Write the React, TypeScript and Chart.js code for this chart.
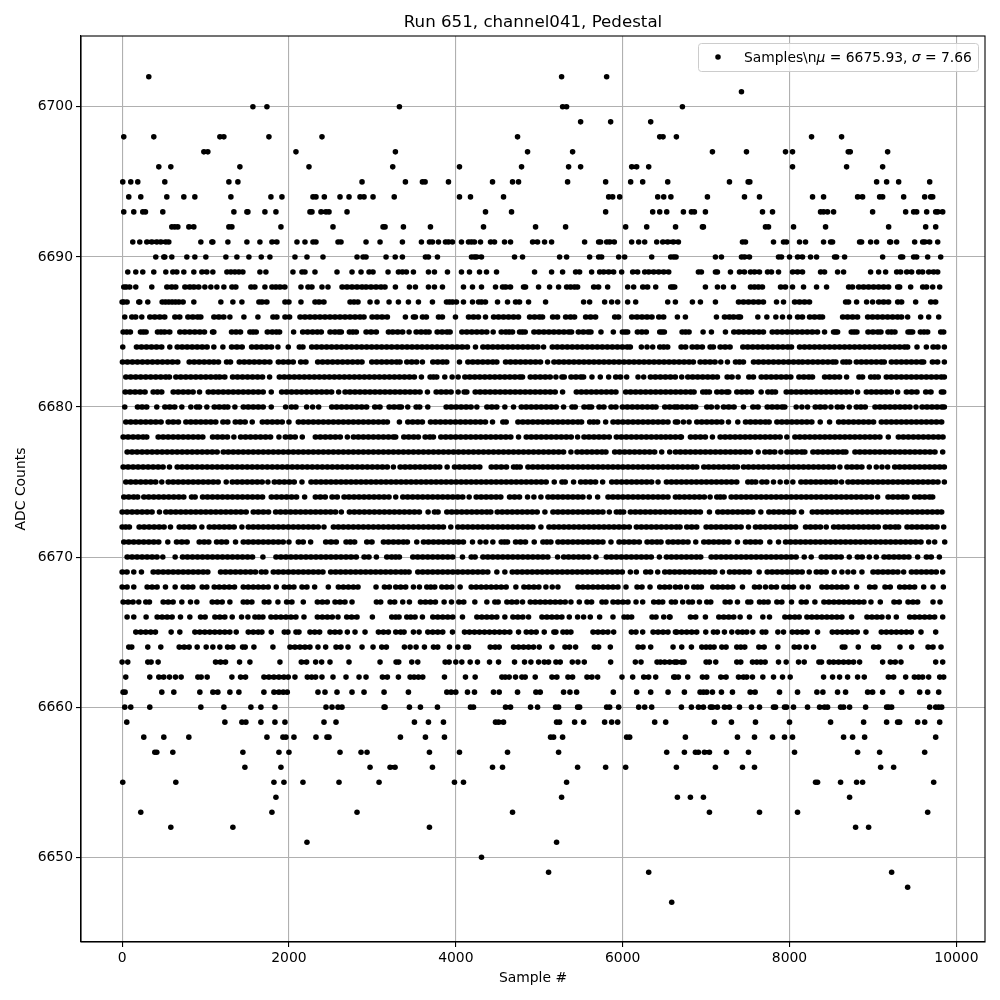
import React, { useEffect, useRef } from "react";
import { Chart, registerables } from "chart.js";

Chart.register(...registerables);

const titleText = "Run 651, channel041, Pedestal";
const xLabel = "Sample #";
const yLabel = "ADC Counts";
const seriesName = "Samples\\nμ = 6675.93, σ = 7.66";
const xTicks = [0, 2000, 4000, 6000, 8000, 10000];
const yTicks = [6650, 6660, 6670, 6680, 6690, 6700];

const r6702 = [320, 5268, 5808];
const r6701 = [7424];
const r6700 = [1568, 1736, 3324, 5280, 5328, 6716];
const r6699 = [5496, 5856, 6336];
const r6698 = [20, 380, 1172, 1220, 1760, 2396, 4740, 6444, 6484, 6644, 8264, 8624];
const r6697 = [980, 1028, 2084, 3276, 4860, 5400, 7076, 7484, 7952, 8036, 8704, 8728, 9176];
const r6696 = [440, 584, 1412, 2240, 3244, 4044, 4788, 5352, 5496, 6108, 6168, 6312, 8036, 8684, 9116];
const r6695 = [8, 104, 188, 512, 1280, 1388, 2876, 3396, 3600, 3632, 3912, 4440, 4680, 4752, 5340, 5796, 6096, 6240, 6540, 7280, 7504, 7524, 9044, 9164, 9308, 9680];
const r6694 = [80, 224, 536, 740, 872, 1304, 1784, 1916, 2288, 2324, 2424, 2612, 2720, 2852, 2900, 3008, 3262, 4044, 4176, 4572, 5832, 5880, 5964, 6420, 6492, 6578, 7016, 7460, 7640, 8276, 8408, 8816, 8876, 9080, 9116, 9368, 9620, 9692, 9716];
const r6693 = [20, 140, 248, 280, 488, 1340, 1496, 1508, 1712, 1844, 2252, 2276, 2384, 2444, 2480, 2696, 4356, 4668, 5796, 6360, 6444, 6528, 6728, 6824, 6860, 6992, 7676, 7796, 8372, 8408, 8456, 8528, 8996, 9392, 9488, 9524, 9644, 9752, 9776, 9836];
const r6692 = [596, 632, 668, 800, 860, 1280, 1316, 1904, 2528, 3128, 3152, 3372, 3696, 4332, 4956, 5316, 6036, 6288, 6634, 6956, 6968, 7712, 7748, 8048, 8432, 9188, 9632, 9752];
const r6691 = [128, 212, 296, 356, 416, 464, 524, 560, 944, 1076, 1088, 1268, 1496, 1652, 1796, 1856, 2096, 2192, 2288, 2324, 2588, 2624, 2924, 3092, 3360, 3588, 3684, 3720, 3792, 3876, 3912, 3960, 4068, 4152, 4188, 4224, 4296, 4416, 4464, 4584, 4656, 4920, 4980, 5064, 5148, 5544, 5712, 5736, 5808, 5844, 5900, 6108, 6192, 6264, 6408, 6480, 6540, 6606, 6668, 7436, 7472, 7808, 7928, 7964, 8120, 8192, 8408, 8492, 8516, 8840, 8864, 8972, 9044, 9200, 9212, 9284, 9500, 9596, 9620, 9680, 9776];
const r6690 = [404, 500, 512, 596, 776, 872, 1004, 1244, 1376, 1520, 1668, 1772, 2072, 2216, 2408, 2816, 2888, 2924, 3164, 3274, 3360, 3636, 3672, 3780, 4188, 4224, 4248, 4308, 4704, 4800, 5244, 5328, 5604, 5712, 5748, 5952, 6024, 6348, 6576, 6612, 6640, 7112, 7184, 7424, 7460, 7520, 7868, 7904, 8000, 8096, 8156, 8252, 8324, 8540, 8564, 8660, 9116, 9332, 9356, 9488, 9524, 9656, 9812];
const r6689 = [68, 164, 248, 380, 524, 608, 656, 740, 860, 956, 1016, 1088, 1256, 1304, 1352, 1400, 1448, 1652, 1724, 2048, 2156, 2192, 2312, 2576, 2756, 2864, 2960, 3008, 3188, 3312, 3360, 3408, 3492, 3672, 3744, 3900, 4068, 4164, 4284, 4368, 4488, 4944, 5148, 5280, 5436, 5484, 5628, 5724, 5772, 5832, 5892, 5988, 6120, 6180, 6264, 6312, 6372, 6432, 6492, 6552, 6908, 6944, 7112, 7136, 7292, 7400, 7460, 7532, 7580, 7640, 7736, 7784, 7868, 8036, 8096, 8156, 8372, 8420, 8576, 8648, 8972, 9068, 9152, 9284, 9332, 9404, 9464, 9548, 9596, 9668, 9728, 9776];
const r6688 = [20, 48, 92, 164, 356, 536, 596, 644, 752, 812, 860, 920, 992, 1064, 1136, 1220, 1316, 1364, 1544, 1592, 1712, 1796, 1844, 1892, 1952, 2144, 2228, 2276, 2396, 2468, 2636, 2696, 2756, 2816, 2876, 2924, 2984, 3044, 3104, 3152, 3276, 3444, 3516, 3672, 3744, 3840, 4092, 4200, 4308, 4476, 4560, 4596, 4656, 4812, 4836, 4992, 5124, 5232, 5328, 5376, 5424, 5460, 5652, 5712, 5820, 6060, 6132, 6240, 6300, 6396, 6576, 6624, 6600, 6992, 7136, 7208, 7328, 7532, 7580, 7628, 7676, 7892, 7952, 8036, 8168, 8324, 8444, 8708, 8756, 8828, 8888, 8948, 9008, 9068, 9128, 9188, 9296, 9320, 9452, 9596, 9644, 9716, 9800];
const r6687 = [0, 20, 60, 200, 212, 308, 480, 520, 560, 600, 640, 680, 732, 860, 1184, 1328, 1436, 1640, 1676, 1736, 1952, 2000, 2144, 2312, 2360, 2420, 2732, 2780, 2828, 2972, 3056, 3200, 3312, 3432, 3552, 3720, 3888, 3924, 3960, 4008, 4092, 4200, 4272, 4308, 4356, 4500, 4620, 4716, 4764, 4872, 5076, 5532, 5604, 5784, 5868, 5940, 6060, 6156, 6540, 6632, 6836, 6932, 7112, 7388, 7448, 7508, 7568, 7628, 7688, 7844, 7928, 8060, 8120, 8180, 8240, 8672, 8708, 8804, 8924, 8996, 9068, 9128, 9188, 9296, 9344, 9512, 9692, 9752];
const r6686 = [32, 116, 164, 236, 332, 392, 452, 512, 632, 692, 788, 848, 908, 944, 1100, 1160, 1220, 1292, 1460, 1628, 1808, 1856, 1952, 2008, 2132, 2192, 2252, 2312, 2372, 2432, 2492, 2552, 2612, 2672, 2732, 2792, 2852, 2900, 2996, 3056, 3116, 3180, 3396, 3492, 3516, 3600, 3648, 3792, 3840, 3996, 4152, 4212, 4272, 4356, 4452, 4512, 4572, 4632, 4692, 4752, 4884, 4944, 5004, 5040, 5160, 5220, 5316, 5376, 5424, 5556, 5616, 5676, 5904, 5952, 6108, 6172, 6232, 6292, 6352, 6432, 6492, 6656, 6752, 7124, 7220, 7280, 7328, 7388, 7412, 7620, 7728, 7836, 7916, 8000, 8096, 8156, 8240, 8300, 8360, 8396, 8636, 8696, 8756, 8816, 8936, 8996, 9056, 9116, 9176, 9236, 9296, 9344, 9416, 9572, 9668, 9788];
const r6685 = [12, 56, 100, 220, 254, 288, 424, 466, 508, 572, 692, 752, 812, 872, 932, 988, 1084, 1100, 1312, 1366, 1420, 1532, 1570, 1608, 1740, 1800, 1850, 1888, 2056, 2164, 2224, 2284, 2340, 2388, 2492, 2552, 2600, 2628, 2724, 2766, 2808, 2924, 2984, 3048, 3192, 3244, 3304, 3364, 3440, 3524, 3584, 3640, 3680, 3776, 3836, 3896, 3932, 4072, 4132, 4192, 4252, 4312, 4372, 4448, 4544, 4600, 4640, 4680, 4764, 4798, 4832, 4936, 4996, 5056, 5116, 5176, 5236, 5296, 5356, 5388, 5468, 5528, 5588, 5620, 5740, 5888, 5996, 6030, 6060, 6176, 6230, 6284, 6444, 6472, 6500, 6712, 6754, 6796, 6964, 7064, 7232, 7332, 7392, 7452, 7512, 7572, 7632, 7688, 7792, 7852, 7912, 7972, 8032, 8092, 8152, 8212, 8272, 8336, 8420, 8528, 8552, 8576, 8740, 8774, 8808, 8940, 9000, 9060, 9096, 9180, 9222, 9264, 9420, 9448, 9476, 9568, 9612, 9656, 9812, 9848];
const r6684 = [8, 172, 232, 292, 352, 412, 476, 572, 660, 720, 780, 840, 900, 960, 1020, 1100, 1208, 1312, 1376, 1440, 1552, 1612, 1672, 1732, 1792, 1868, 1992, 2124, 2168, 2272, 2332, 2392, 2452, 2512, 2572, 2632, 2692, 2752, 2812, 2872, 2932, 2992, 3052, 3112, 3172, 3232, 3296, 3356, 3416, 3476, 3536, 3596, 3656, 3716, 3776, 3836, 3896, 3956, 4016, 4076, 4140, 4236, 4324, 4384, 4444, 4504, 4564, 4624, 4684, 4744, 4804, 4864, 4924, 4984, 5052, 5156, 5216, 5276, 5336, 5396, 5456, 5516, 5576, 5636, 5696, 5756, 5816, 5876, 5936, 5996, 6056, 6092, 6224, 6292, 6360, 6444, 6492, 6540, 6700, 6756, 6832, 6892, 6956, 7048, 7088, 7168, 7228, 7288, 7440, 7500, 7560, 7620, 7680, 7740, 7800, 7860, 7920, 7980, 8024, 8120, 8180, 8240, 8300, 8360, 8420, 8480, 8540, 8600, 8660, 8720, 8780, 8840, 8900, 8960, 9020, 9080, 9140, 9200, 9260, 9320, 9380, 9416, 9528, 9640, 9720, 9780, 9856];
const r6683 = [4, 64, 124, 184, 244, 304, 364, 424, 484, 544, 604, 668, 804, 864, 924, 984, 1044, 1100, 1156, 1252, 1300, 1404, 1464, 1524, 1584, 1644, 1708, 1772, 1872, 1932, 1992, 2052, 2140, 2204, 2344, 2404, 2464, 2524, 2584, 2644, 2704, 2764, 2824, 2876, 2992, 3052, 3112, 3172, 3232, 3292, 3332, 3412, 3472, 3532, 3600, 3724, 3784, 3844, 3892, 4044, 4144, 4204, 4264, 4324, 4384, 4444, 4492, 4596, 4656, 4716, 4776, 4836, 4896, 4956, 5016, 5100, 5176, 5236, 5296, 5356, 5416, 5476, 5536, 5596, 5656, 5716, 5776, 5836, 5896, 5956, 6016, 6076, 6136, 6196, 6256, 6316, 6376, 6436, 6496, 6556, 6616, 6676, 6736, 6796, 6848, 6928, 6988, 7048, 7108, 7176, 7256, 7352, 7400, 7448, 7568, 7628, 7688, 7748, 7808, 7868, 7928, 7988, 8048, 8108, 8156, 8220, 8280, 8340, 8400, 8460, 8520, 8556, 8640, 8680, 8720, 8800, 8860, 8920, 8980, 9040, 9100, 9136, 9220, 9280, 9340, 9400, 9460, 9520, 9580, 9608, 9712, 9776, 9856];
const r6682 = [44, 104, 164, 224, 284, 344, 404, 464, 524, 568, 644, 704, 764, 824, 884, 944, 1004, 1064, 1124, 1168, 1232, 1324, 1384, 1444, 1504, 1564, 1624, 1684, 1768, 1884, 1944, 2004, 2064, 2124, 2184, 2244, 2304, 2364, 2424, 2484, 2544, 2604, 2664, 2724, 2784, 2844, 2904, 2964, 3024, 3084, 3144, 3204, 3264, 3324, 3384, 3444, 3504, 3588, 3692, 3732, 3772, 3868, 3956, 4028, 4108, 4168, 4228, 4288, 4348, 4408, 4468, 4528, 4588, 4648, 4708, 4768, 4800, 4892, 4952, 5012, 5072, 5132, 5200, 5272, 5300, 5380, 5440, 5500, 5532, 5632, 5732, 5832, 5916, 5976, 6048, 6184, 6252, 6332, 6392, 6452, 6512, 6572, 6632, 6708, 6780, 6840, 6900, 6960, 7020, 7080, 7136, 7252, 7312, 7384, 7512, 7568, 7660, 7720, 7780, 7840, 7900, 7960, 8016, 8112, 8172, 8232, 8276, 8420, 8480, 8540, 8600, 8684, 8832, 8876, 8972, 9020, 9064, 9160, 9220, 9280, 9340, 9400, 9460, 9520, 9580, 9640, 9700, 9760, 9820, 9856];
const r6681 = [36, 96, 156, 216, 276, 372, 424, 476, 612, 672, 732, 792, 852, 928, 1032, 1092, 1152, 1212, 1272, 1332, 1392, 1452, 1512, 1572, 1632, 1692, 1788, 1912, 1972, 2032, 2092, 2152, 2212, 2272, 2332, 2392, 2452, 2512, 2596, 2672, 2732, 2792, 2852, 2912, 2972, 3032, 3092, 3152, 3212, 3272, 3332, 3392, 3452, 3512, 3572, 3660, 3764, 3824, 3884, 3944, 4028, 4100, 4132, 4232, 4292, 4352, 4412, 4472, 4532, 4592, 4652, 4712, 4772, 4832, 4892, 4952, 5012, 5072, 5132, 5192, 5280, 5444, 5504, 5564, 5624, 5684, 5744, 5804, 5864, 5920, 6036, 6096, 6156, 6216, 6276, 6336, 6396, 6456, 6516, 6576, 6636, 6696, 6756, 6816, 6856, 6960, 7000, 7040, 7128, 7188, 7248, 7272, 7368, 7428, 7488, 7544, 7660, 7740, 7790, 7832, 7960, 8020, 8080, 8140, 8200, 8260, 8320, 8380, 8440, 8500, 8560, 8620, 8680, 8740, 8816, 8920, 8980, 9040, 9100, 9160, 9220, 9296, 9400, 9464, 9528, 9632, 9696, 9820, 9848];
const r6680 = [32, 184, 240, 296, 416, 512, 572, 632, 716, 824, 892, 928, 1016, 1104, 1164, 1224, 1268, 1352, 1452, 1512, 1572, 1632, 1692, 1788, 1960, 2028, 2084, 2212, 2284, 2356, 2512, 2572, 2632, 2692, 2752, 2812, 2872, 2932, 3028, 3092, 3200, 3260, 3320, 3348, 3424, 3524, 3568, 3664, 3884, 3944, 4004, 4064, 4124, 4184, 4252, 4372, 4432, 4492, 4588, 4692, 4784, 4844, 4904, 4964, 5024, 5084, 5144, 5204, 5292, 5392, 5432, 5536, 5596, 5628, 5716, 5776, 5860, 5920, 5996, 6056, 6116, 6176, 6236, 6296, 6356, 6400, 6504, 6564, 6624, 6656, 6712, 6772, 6832, 6876, 7008, 7064, 7132, 7208, 7272, 7336, 7448, 7560, 7624, 7732, 7792, 7852, 7912, 7944, 8080, 8148, 8216, 8308, 8368, 8428, 8496, 8572, 8632, 8716, 8800, 8856, 8908, 9024, 9084, 9144, 9204, 9264, 9324, 9384, 9444, 9516, 9588, 9648, 9708, 9768, 9828, 9856];
const r6679 = [44, 104, 164, 224, 284, 344, 404, 468, 552, 612, 676, 764, 824, 884, 944, 1004, 1064, 1124, 1208, 1268, 1356, 1416, 1476, 1560, 1680, 1740, 1800, 1860, 1920, 2000, 2112, 2172, 2232, 2292, 2352, 2412, 2472, 2532, 2592, 2652, 2712, 2772, 2832, 2892, 2952, 3012, 3072, 3132, 3180, 3324, 3424, 3484, 3544, 3600, 3696, 3756, 3816, 3876, 3936, 3996, 4056, 4116, 4176, 4236, 4296, 4356, 4440, 4564, 4604, 4744, 4804, 4864, 4924, 4984, 5044, 5104, 5164, 5224, 5284, 5344, 5404, 5464, 5508, 5604, 5652, 5700, 5796, 5884, 5944, 6004, 6064, 6124, 6184, 6244, 6304, 6364, 6424, 6484, 6544, 6632, 6660, 6728, 6796, 6888, 6948, 7008, 7068, 7128, 7188, 7268, 7380, 7472, 7532, 7592, 7652, 7712, 7756, 7848, 7908, 7968, 8028, 8088, 8148, 8208, 8268, 8368, 8480, 8588, 8648, 8708, 8768, 8828, 8888, 8948, 9008, 9100, 9160, 9220, 9280, 9340, 9400, 9460, 9520, 9580, 9640, 9700, 9760, 9824];
const r6678 = [12, 72, 132, 192, 252, 296, 432, 492, 552, 612, 672, 732, 792, 852, 912, 968, 1084, 1144, 1204, 1264, 1340, 1420, 1480, 1540, 1600, 1660, 1720, 1780, 1880, 1956, 2016, 2076, 2160, 2316, 2376, 2436, 2496, 2556, 2616, 2700, 2772, 2832, 2892, 2952, 3012, 3072, 3132, 3192, 3252, 3280, 3376, 3436, 3496, 3552, 3632, 3690, 3732, 3820, 3880, 3940, 4000, 4060, 4120, 4180, 4240, 4300, 4360, 4420, 4480, 4540, 4600, 4660, 4752, 4844, 4904, 4964, 5024, 5084, 5144, 5204, 5264, 5324, 5384, 5460, 5536, 5596, 5656, 5716, 5776, 5840, 5924, 5984, 6044, 6104, 6164, 6224, 6284, 6344, 6404, 6460, 6516, 6572, 6632, 6692, 6704, 6812, 6872, 6932, 6992, 7076, 7168, 7228, 7288, 7348, 7408, 7468, 7528, 7588, 7648, 7708, 7768, 7828, 7888, 7968, 8064, 8124, 8184, 8244, 8304, 8364, 8424, 8484, 8544, 8604, 8664, 8724, 8784, 8844, 8904, 8964, 9024, 9084, 9184, 9304, 9364, 9424, 9484, 9544, 9604, 9664, 9724, 9784, 9840];
const r6677 = [60, 120, 180, 240, 300, 360, 420, 480, 540, 600, 660, 720, 780, 840, 900, 960, 1020, 1080, 1140, 1212, 1272, 1332, 1392, 1452, 1512, 1572, 1632, 1692, 1752, 1812, 1872, 1932, 1992, 2052, 2112, 2172, 2232, 2292, 2352, 2412, 2472, 2532, 2592, 2652, 2712, 2772, 2832, 2892, 2952, 3012, 3072, 3132, 3192, 3252, 3312, 3372, 3432, 3492, 3552, 3612, 3672, 3732, 3792, 3852, 3912, 3972, 4032, 4092, 4152, 4212, 4272, 4332, 4392, 4452, 4512, 4572, 4632, 4692, 4752, 4812, 4872, 4932, 4992, 5052, 5112, 5172, 5232, 5292, 5380, 5452, 5512, 5572, 5632, 5692, 5752, 5800, 5904, 5964, 6024, 6084, 6144, 6204, 6264, 6324, 6384, 6468, 6564, 6632, 6692, 6752, 6812, 6872, 6932, 6992, 7052, 7112, 7172, 7232, 7292, 7352, 7412, 7472, 7532, 7624, 7704, 7764, 7824, 7896, 7968, 8028, 8088, 8148, 8184, 8280, 8340, 8400, 8460, 8520, 8580, 8640, 8676, 8784, 8844, 8904, 8964, 9024, 9084, 9144, 9204, 9264, 9324, 9384, 9444, 9504, 9564, 9624, 9684, 9744, 9836];
const r6676 = [12, 72, 132, 192, 252, 312, 372, 432, 492, 568, 660, 720, 780, 840, 900, 960, 1020, 1080, 1140, 1200, 1260, 1320, 1380, 1440, 1500, 1560, 1620, 1680, 1740, 1800, 1860, 1920, 1980, 2040, 2100, 2160, 2220, 2280, 2340, 2400, 2460, 2520, 2580, 2640, 2700, 2760, 2820, 2880, 2940, 3000, 3060, 3120, 3180, 3252, 3332, 3392, 3452, 3512, 3572, 3632, 3692, 3752, 3808, 3896, 3984, 4044, 4104, 4164, 4224, 4288, 4424, 4484, 4544, 4608, 4692, 4732, 4772, 4864, 4924, 4984, 5044, 5104, 5164, 5224, 5284, 5344, 5404, 5464, 5524, 5584, 5644, 5704, 5764, 5824, 5884, 5944, 6004, 6064, 6124, 6184, 6244, 6304, 6364, 6424, 6484, 6544, 6604, 6660, 6720, 6780, 6840, 6888, 6972, 7032, 7092, 7152, 7212, 7272, 7332, 7376, 7448, 7508, 7568, 7628, 7688, 7748, 7808, 7868, 7928, 7988, 8048, 8108, 8168, 8228, 8288, 8348, 8408, 8468, 8528, 8604, 8688, 8748, 8808, 8868, 8956, 9040, 9108, 9176, 9260, 9320, 9380, 9440, 9500, 9560, 9620, 9680, 9740, 9800, 9856];
const r6675 = [44, 104, 164, 224, 284, 344, 404, 476, 552, 612, 672, 732, 792, 852, 912, 972, 1032, 1092, 1152, 1248, 1320, 1380, 1440, 1500, 1560, 1620, 1680, 1748, 1824, 1884, 1944, 2004, 2064, 2156, 2264, 2324, 2384, 2444, 2504, 2564, 2624, 2684, 2744, 2804, 2864, 2924, 2984, 3044, 3104, 3164, 3224, 3284, 3344, 3404, 3464, 3524, 3584, 3644, 3704, 3764, 3824, 3884, 3944, 4004, 4064, 4124, 4184, 4244, 4304, 4364, 4424, 4484, 4544, 4604, 4664, 4724, 4784, 4844, 4904, 4964, 5024, 5084, 5180, 5272, 5312, 5412, 5496, 5556, 5616, 5676, 5760, 5868, 5928, 5988, 6048, 6108, 6168, 6228, 6288, 6348, 6424, 6524, 6584, 6644, 6704, 6764, 6824, 6884, 6944, 7004, 7064, 7124, 7184, 7244, 7304, 7368, 7500, 7548, 7596, 7668, 7728, 7808, 7888, 7964, 8040, 8136, 8196, 8256, 8316, 8376, 8436, 8496, 8556, 8624, 8700, 8760, 8820, 8880, 8940, 9000, 9060, 9120, 9180, 9240, 9300, 9360, 9420, 9480, 9540, 9600, 9660, 9720, 9780, 9856];
const r6674 = [20, 80, 140, 188, 260, 320, 380, 440, 500, 560, 620, 680, 740, 832, 876, 964, 1024, 1084, 1144, 1204, 1264, 1324, 1384, 1444, 1504, 1564, 1624, 1684, 1788, 1852, 1912, 1972, 2032, 2092, 2188, 2316, 2376, 2436, 2516, 2580, 2660, 2720, 2780, 2840, 2900, 2960, 3020, 3080, 3140, 3200, 3280, 3364, 3424, 3484, 3544, 3604, 3664, 3724, 3784, 3844, 3904, 3964, 4024, 4084, 4160, 4244, 4304, 4364, 4424, 4484, 4540, 4644, 4704, 4764, 4860, 4936, 5020, 5104, 5164, 5224, 5284, 5344, 5404, 5464, 5524, 5600, 5700, 5824, 5884, 5944, 6004, 6064, 6124, 6184, 6244, 6304, 6364, 6424, 6484, 6544, 6632, 6680, 6740, 6800, 6860, 6920, 6980, 7048, 7128, 7170, 7216, 7300, 7360, 7420, 7480, 7540, 7600, 7660, 7720, 7780, 7840, 7900, 7960, 8020, 8080, 8140, 8200, 8260, 8320, 8380, 8440, 8500, 8560, 8620, 8680, 8740, 8800, 8860, 8920, 8984, 9056, 9180, 9240, 9300, 9360, 9408, 9500, 9560, 9620, 9680, 9716];
const r6673 = [0, 60, 120, 180, 240, 300, 360, 448, 524, 584, 644, 704, 764, 824, 884, 944, 1004, 1064, 1124, 1184, 1244, 1304, 1364, 1424, 1488, 1572, 1632, 1692, 1756, 1840, 1900, 1960, 2020, 2080, 2140, 2200, 2260, 2320, 2380, 2440, 2500, 2560, 2628, 2724, 2784, 2844, 2904, 2964, 3024, 3084, 3144, 3204, 3264, 3324, 3384, 3444, 3504, 3564, 3668, 3744, 3788, 3892, 3952, 4012, 4072, 4132, 4192, 4252, 4312, 4372, 4420, 4496, 4556, 4616, 4676, 4736, 4796, 4856, 4916, 4976, 5068, 5164, 5224, 5284, 5344, 5404, 5464, 5524, 5584, 5644, 5704, 5764, 5840, 5924, 5970, 6012, 6092, 6152, 6212, 6272, 6332, 6392, 6452, 6512, 6572, 6632, 6692, 6752, 6812, 6872, 6932, 7040, 7140, 7200, 7260, 7320, 7380, 7440, 7500, 7560, 7656, 7752, 7812, 7872, 7932, 7992, 8052, 8144, 8272, 8332, 8392, 8452, 8512, 8572, 8632, 8692, 8752, 8812, 8872, 8932, 8992, 9052, 9112, 9172, 9232, 9292, 9352, 9412, 9472, 9532, 9592, 9652, 9712, 9772, 9824];
const r6672 = [0, 44, 88, 204, 264, 324, 384, 444, 504, 580, 684, 744, 804, 864, 956, 1044, 1104, 1164, 1224, 1284, 1344, 1436, 1512, 1572, 1632, 1692, 1752, 1812, 1872, 1932, 1992, 2052, 2112, 2172, 2232, 2292, 2352, 2420, 2532, 2592, 2652, 2712, 2772, 2832, 2892, 2952, 3012, 3072, 3132, 3192, 3252, 3312, 3372, 3432, 3492, 3552, 3612, 3672, 3732, 3792, 3852, 3940, 4024, 4084, 4144, 4204, 4264, 4324, 4384, 4444, 4504, 4564, 4624, 4684, 4744, 4804, 4864, 4924, 5020, 5116, 5176, 5236, 5296, 5356, 5416, 5476, 5536, 5596, 5656, 5716, 5776, 5836, 5896, 5956, 6016, 6080, 6164, 6224, 6284, 6344, 6404, 6464, 6524, 6584, 6644, 6688, 6768, 6828, 6888, 7000, 7060, 7120, 7180, 7240, 7300, 7360, 7420, 7508, 7592, 7652, 7712, 7772, 7832, 7892, 7952, 8012, 8072, 8192, 8252, 8312, 8372, 8440, 8528, 8588, 8648, 8708, 8768, 8828, 8888, 8948, 9008, 9064, 9148, 9208, 9268, 9308, 9408, 9468, 9528, 9588, 9648, 9708, 9768, 9848];
const r6671 = [20, 80, 140, 200, 260, 320, 380, 440, 548, 652, 716, 780, 924, 984, 1040, 1132, 1192, 1252, 1360, 1452, 1512, 1572, 1632, 1692, 1752, 1812, 1872, 1932, 2000, 2112, 2172, 2260, 2440, 2504, 2568, 2684, 2736, 2788, 2932, 2996, 3132, 3192, 3252, 3312, 3372, 3420, 3532, 3612, 3672, 3732, 3792, 3852, 3912, 3972, 4032, 4092, 4200, 4292, 4360, 4444, 4544, 4584, 4620, 4716, 4776, 4836, 4940, 5044, 5092, 5140, 5224, 5284, 5344, 5404, 5464, 5524, 5584, 5644, 5704, 5764, 5860, 5956, 6016, 6076, 6136, 6200, 6292, 6352, 6412, 6460, 6544, 6604, 6664, 6724, 6784, 6876, 6972, 7032, 7092, 7152, 7212, 7272, 7376, 7472, 7532, 7592, 7652, 7764, 7868, 7952, 8012, 8072, 8132, 8192, 8252, 8312, 8372, 8432, 8492, 8552, 8612, 8672, 8732, 8792, 8852, 8912, 8972, 9032, 9092, 9152, 9212, 9272, 9332, 9392, 9452, 9512, 9576, 9668, 9740, 9860];
const r6670 = [60, 120, 180, 240, 300, 360, 420, 488, 636, 724, 784, 844, 904, 964, 1024, 1084, 1144, 1204, 1264, 1324, 1384, 1444, 1504, 1564, 1688, 1844, 1904, 1964, 2024, 2084, 2144, 2204, 2264, 2324, 2384, 2444, 2504, 2564, 2624, 2684, 2744, 2808, 2900, 2960, 3048, 3172, 3232, 3280, 3324, 3484, 3544, 3604, 3664, 3724, 3784, 3844, 3904, 3964, 4080, 4184, 4232, 4324, 4384, 4444, 4504, 4564, 4624, 4684, 4744, 4804, 4864, 4924, 4984, 5044, 5104, 5220, 5292, 5352, 5412, 5472, 5532, 5592, 5680, 5804, 5864, 5924, 5984, 6044, 6104, 6164, 6224, 6284, 6344, 6440, 6524, 6584, 6644, 6704, 6764, 6824, 6884, 6936, 7060, 7120, 7180, 7240, 7300, 7360, 7420, 7480, 7540, 7600, 7660, 7720, 7780, 7840, 7900, 7960, 8020, 8080, 8176, 8260, 8380, 8440, 8500, 8560, 8620, 8716, 8812, 8872, 8956, 9040, 9132, 9192, 9252, 9312, 9372, 9432, 9536, 9640, 9700, 9796];
const r6669 = [0, 60, 140, 232, 372, 432, 492, 552, 612, 672, 732, 792, 852, 912, 972, 1028, 1180, 1240, 1300, 1360, 1420, 1480, 1540, 1600, 1668, 1724, 1812, 1872, 1932, 1992, 2052, 2112, 2172, 2232, 2292, 2352, 2408, 2500, 2560, 2620, 2680, 2740, 2800, 2860, 2920, 2980, 3040, 3100, 3160, 3220, 3280, 3344, 3392, 3440, 3544, 3604, 3664, 3724, 3784, 3844, 3904, 3964, 4024, 4084, 4144, 4204, 4264, 4324, 4384, 4492, 4588, 4676, 4736, 4796, 4856, 4916, 4976, 5036, 5096, 5156, 5216, 5276, 5336, 5396, 5456, 5516, 5576, 5636, 5696, 5756, 5816, 5876, 5936, 5996, 6092, 6164, 6276, 6336, 6420, 6504, 6564, 6624, 6684, 6744, 6804, 6864, 6924, 6984, 7044, 7104, 7196, 7280, 7340, 7400, 7460, 7520, 7636, 7732, 7792, 7852, 7912, 7972, 8032, 8092, 8152, 8236, 8320, 8380, 8440, 8536, 8628, 8700, 8768, 8868, 9000, 9060, 9120, 9180, 9240, 9300, 9368, 9460, 9520, 9580, 9640, 9700, 9760, 9836];
const r6668 = [0, 60, 140, 300, 360, 420, 520, 636, 732, 790, 848, 960, 1016, 1104, 1164, 1224, 1284, 1348, 1452, 1512, 1572, 1632, 1692, 1752, 1848, 1944, 2004, 2060, 2156, 2216, 2308, 2472, 2592, 2652, 2712, 2772, 2828, 3044, 3144, 3204, 3280, 3340, 3400, 3492, 3564, 3652, 3700, 3748, 3832, 3892, 3952, 4052, 4184, 4244, 4304, 4364, 4424, 4484, 4544, 4604, 4720, 4816, 4876, 4936, 4996, 5080, 5156, 5224, 5464, 5524, 5584, 5644, 5704, 5764, 5824, 5884, 5944, 6040, 6172, 6232, 6328, 6444, 6504, 6564, 6632, 6692, 6768, 6852, 6900, 6944, 7080, 7140, 7200, 7260, 7320, 7436, 7580, 7640, 7712, 7780, 7844, 7932, 7990, 8048, 8152, 8224, 8388, 8448, 8508, 8568, 8628, 8688, 8804, 8960, 9024, 9144, 9208, 9320, 9380, 9440, 9500, 9608, 9720, 9844];
const r6667 = [12, 72, 132, 200, 284, 328, 492, 552, 612, 716, 820, 896, 1080, 1140, 1200, 1292, 1452, 1500, 1556, 1704, 1760, 1868, 1972, 2036, 2172, 2340, 2400, 2460, 2552, 2612, 2672, 2756, 3048, 3100, 3212, 3268, 3364, 3444, 3576, 3636, 3696, 3756, 3860, 3948, 4036, 4096, 4228, 4372, 4468, 4508, 4612, 4672, 4732, 4800, 4892, 4952, 5012, 5072, 5132, 5192, 5252, 5312, 5380, 5480, 5572, 5628, 5752, 5800, 5884, 5944, 6004, 6064, 6160, 6240, 6372, 6432, 6480, 6584, 6632, 6720, 6792, 6836, 6920, 7008, 7056, 7228, 7288, 7376, 7500, 7536, 7640, 7692, 7744, 7848, 7908, 8024, 8140, 8200, 8304, 8412, 8472, 8532, 8592, 8652, 8712, 8772, 8832, 8892, 8976, 9088, 9252, 9316, 9420, 9480, 9536, 9720, 9804];
const r6666 = [60, 140, 288, 420, 480, 540, 600, 700, 812, 940, 996, 1112, 1172, 1232, 1320, 1432, 1508, 1592, 1640, 1688, 1784, 1844, 1904, 1964, 2024, 2084, 2180, 2340, 2400, 2460, 2520, 2588, 2692, 2752, 2816, 3000, 3232, 3280, 3320, 3412, 3460, 3512, 3600, 3724, 3784, 3844, 3904, 3964, 4080, 4252, 4312, 4372, 4432, 4492, 4588, 4684, 4744, 4804, 4872, 5032, 5092, 5152, 5212, 5272, 5360, 5460, 5532, 5612, 5724, 5884, 6016, 6060, 6108, 6352, 6400, 6492, 6560, 6568, 6812, 6876, 6992, 7152, 7212, 7272, 7332, 7408, 7520, 7680, 7760, 7944, 8004, 8064, 8116, 8208, 8268, 8328, 8388, 8448, 8508, 8568, 8628, 8744, 8928, 8988, 9048, 9108, 9184, 9280, 9440, 9500, 9560, 9620, 9680, 9740, 9836];
const r6665 = [164, 224, 284, 344, 400, 588, 692, 872, 932, 992, 1052, 1112, 1172, 1232, 1292, 1368, 1512, 1572, 1632, 1676, 1788, 1944, 1988, 2084, 2120, 2252, 2310, 2368, 2492, 2552, 2612, 2700, 2792, 2912, 3072, 3132, 3192, 3280, 3340, 3380, 3492, 3560, 3664, 3724, 3784, 3844, 3960, 4104, 4164, 4224, 4284, 4344, 4404, 4464, 4524, 4584, 4648, 4752, 4844, 4904, 4964, 5060, 5176, 5200, 5284, 5332, 5380, 5644, 5704, 5764, 5824, 5892, 6104, 6160, 6240, 6364, 6424, 6484, 6544, 6632, 6648, 6708, 6768, 6828, 6888, 6996, 7088, 7136, 7220, 7308, 7380, 7436, 7488, 7560, 7672, 7716, 7860, 7928, 8032, 8092, 8152, 8212, 8336, 8512, 8572, 8632, 8692, 8752, 8812, 8916, 9100, 9160, 9220, 9280, 9340, 9400, 9460, 9576, 9752];
const r6664 = [80, 116, 308, 464, 684, 744, 804, 900, 1008, 1088, 1172, 1264, 1328, 1444, 1476, 1580, 1808, 2012, 2072, 2132, 2192, 2252, 2348, 2440, 2564, 2624, 2708, 2876, 3008, 3112, 3168, 3384, 3452, 3524, 3624, 3732, 3784, 3924, 4024, 4116, 4152, 4412, 4472, 4520, 4692, 4752, 4812, 4872, 4932, 5000, 5152, 5308, 5364, 5436, 5660, 5712, 5852, 6184, 6244, 6336, 6604, 6708, 6824, 6948, 7000, 7048, 7096, 7188, 7240, 7368, 7416, 7464, 7632, 7696, 7860, 8056, 8116, 8200, 8288, 8632, 8664, 8824, 9008, 9068, 9324, 9464, 9660, 9720, 9816];
const r6663 = [0, 68, 308, 348, 432, 1120, 1180, 1240, 1408, 1532, 1892, 2148, 2212, 2320, 2392, 2492, 2720, 3092, 3284, 3316, 3472, 3544, 3872, 3920, 4000, 4072, 4172, 4260, 4404, 4512, 4704, 4824, 4900, 4992, 5060, 5112, 5200, 5252, 5396, 5464, 5540, 5856, 6152, 6220, 6412, 6452, 6504, 6564, 6624, 6648, 6708, 6736, 7000, 7040, 7116, 7368, 7416, 7556, 7608, 7656, 7708, 7868, 7960, 8108, 8176, 8352, 8384, 8476, 8528, 8588, 8648, 8708, 8768, 8840, 9116, 9208, 9268, 9336, 9752, 9836];
const r6662 = [44, 332, 440, 500, 568, 640, 708, 908, 948, 1020, 1316, 1420, 1480, 1700, 1760, 1820, 1880, 1940, 1992, 2072, 2220, 2272, 2320, 2396, 2528, 2684, 2840, 2924, 3120, 3180, 3312, 3452, 3500, 3552, 3604, 3864, 4116, 4232, 4552, 4592, 4640, 4716, 4792, 4832, 4952, 5152, 5212, 5344, 5400, 5572, 5632, 5700, 5992, 6120, 6252, 6312, 6396, 6612, 6628, 6668, 6780, 6956, 7008, 7176, 7240, 7388, 7448, 7488, 7556, 7680, 7808, 7916, 8008, 8408, 8516, 8600, 8696, 8816, 8896, 9184, 9248, 9392, 9496, 9548, 9596, 9668, 9800, 9848];
const r6661 = [12, 36, 476, 620, 932, 1088, 1148, 1292, 1400, 1700, 1820, 1880, 1932, 1980, 2348, 2432, 2576, 2756, 2900, 3140, 3432, 3892, 3944, 4000, 4140, 4224, 4452, 4520, 4740, 4960, 5012, 5292, 5368, 5448, 5888, 6168, 6336, 6544, 6740, 6928, 6968, 7008, 7076, 7184, 7316, 7528, 7588, 7880, 8096, 8328, 8400, 8576, 8672, 8936, 8996, 9116, 9344, 9560, 9656, 9788];
const r6660 = [32, 104, 332, 944, 1220, 1544, 1664, 1832, 2444, 2516, 2588, 2636, 3140, 3152, 3444, 3576, 3780, 4176, 4212, 4596, 4656, 4896, 4980, 5196, 5232, 5460, 5484, 5808, 5844, 5952, 6192, 6264, 6348, 6704, 6824, 6908, 6968, 7052, 7076, 7136, 7220, 7280, 7400, 7544, 7640, 7808, 7832, 7940, 7964, 8048, 8216, 8360, 8420, 8456, 8612, 8648, 8720, 8912, 9164, 9188, 9224, 9680, 9752, 9788, 9824];
const r6659 = [56, 1232, 1436, 1484, 1664, 1832, 1952, 2420, 2564, 3504, 3672, 3852, 4476, 4512, 4572, 5208, 5244, 5424, 5532, 5784, 5868, 5940, 6384, 6516, 7100, 7304, 7592, 8000, 8492, 8888, 9164, 9296, 9320, 9536, 9620, 9800];
const r6658 = [260, 500, 800, 1736, 1928, 1964, 2060, 2324, 2456, 2480, 3336, 3636, 3864, 5136, 5172, 5280, 6048, 6084, 6752, 7376, 7580, 7796, 7940, 8036, 8648, 8756, 8900, 9752];
const r6657 = [392, 416, 608, 1448, 1880, 2000, 2612, 2864, 2936, 3684, 4044, 4620, 5232, 6528, 6740, 6872, 6908, 6980, 7040, 7244, 7508, 8060, 8816, 9080, 9620];
const r6656 = [1472, 1904, 2972, 3212, 3272, 3720, 4440, 4560, 5460, 5796, 6036, 6644, 7112, 7436, 7580, 9092, 9248];
const r6655 = [8, 644, 1820, 1940, 2168, 2600, 3080, 3984, 4092, 5328, 8312, 8336, 8612, 8804, 8876, 9728];
const r6654 = [1844, 5268, 6656, 6812, 6968, 8720];
const r6653 = [224, 1796, 2816, 4680, 7040, 7640, 8096, 9656];
const r6652 = [584, 1328, 3684, 8792, 8948];
const r6651 = [2216, 5208];
const r6650 = [4308];
const r6649 = [5112, 6312, 9224];
const r6648 = [9416];
const r6647 = [6588];

const rows: [number, number[]][] = [
  [6702, r6702], [6701, r6701], [6700, r6700], [6699, r6699], [6698, r6698], [6697, r6697], [6696, r6696],
  [6695, r6695], [6694, r6694], [6693, r6693], [6692, r6692], [6691, r6691], [6690, r6690], [6689, r6689],
  [6688, r6688], [6687, r6687], [6686, r6686], [6685, r6685], [6684, r6684], [6683, r6683], [6682, r6682],
  [6681, r6681], [6680, r6680], [6679, r6679], [6678, r6678], [6677, r6677], [6676, r6676], [6675, r6675],
  [6674, r6674], [6673, r6673], [6672, r6672], [6671, r6671], [6670, r6670], [6669, r6669], [6668, r6668],
  [6667, r6667], [6666, r6666], [6665, r6665], [6664, r6664], [6663, r6663], [6662, r6662], [6661, r6661],
  [6660, r6660], [6659, r6659], [6658, r6658], [6657, r6657], [6656, r6656], [6655, r6655], [6654, r6654],
  [6653, r6653], [6652, r6652], [6651, r6651], [6650, r6650], [6649, r6649], [6648, r6648], [6647, r6647],
];

const points = rows.flatMap(([level, xs]) => xs.map((x) => ({ x, y: level })));
const fontFamily = '"DejaVu Sans", sans-serif';

const rowBars = {
  id: "rowBars",
  beforeDatasetsDraw(chart: any) {
    const ctx = chart.ctx;
    const { x: sx, y: sy } = chart.scales;
    ctx.save();
    ctx.strokeStyle = "#000";
    ctx.lineWidth = 4.4;
    ctx.beginPath();
    for (const [level, xs] of rows) {
      const sorted = [...xs].sort((a, b) => a - b);
      const py = sy.getPixelForValue(level);
      for (let i = 1; i < sorted.length; i++) {
        if (sorted[i] - sorted[i - 1] <= 66) {
          ctx.moveTo(sx.getPixelForValue(sorted[i - 1]), py);
          ctx.lineTo(sx.getPixelForValue(sorted[i]), py);
        }
      }
    }
    ctx.stroke();
    ctx.restore();
  },
};

const legendBox = {
  id: "legendBox",
  afterDraw(chart: any) {
    const ctx = chart.ctx;
    const a = chart.chartArea;
    ctx.save();
    ctx.strokeStyle = "#000";
    ctx.lineWidth = 1.1;
    ctx.strokeRect(a.left, a.top, a.right - a.left, a.bottom - a.top);
    ctx.beginPath();
    ctx.roundRect(698.5, 43.5, 280, 28, 3);
    ctx.fillStyle = "rgba(255,255,255,0.8)";
    ctx.fill();
    ctx.strokeStyle = "#cccccc";
    ctx.lineWidth = 1;
    ctx.stroke();
    ctx.fillStyle = "#000";
    ctx.beginPath();
    ctx.arc(718, 57, 2.78, 0, Math.PI * 2);
    ctx.fill();
    ctx.textBaseline = "alphabetic";
    ctx.textAlign = "left";
    let x = 744;
    const y = 62;
    const parts: [string, boolean][] = [
      ["Samples\\n", false],
      ["μ", true],
      [" = 6675.93, ", false],
      ["σ", true],
      [" = 7.66", false],
    ];
    for (const [text, italic] of parts) {
      ctx.font = `${italic ? "italic " : ""}13.85px ${fontFamily}`;
      ctx.fillText(text, x, y);
      x += ctx.measureText(text).width;
    }
    ctx.restore();
  },
};

export default function App() {
  const ref = useRef<HTMLCanvasElement>(null);
  useEffect(() => {
    document.body.style.margin = "0";
    const chart = new Chart(ref.current!, {
      type: "scatter",
      data: {
        datasets: [
          {
            label: seriesName,
            data: points,
            backgroundColor: "#000000",
            pointRadius: 2.78,
            pointBorderWidth: 0,
            pointHoverRadius: 2.78,
          },
        ],
      },
      plugins: [rowBars, legendBox],
      options: {
        animation: false,
        responsive: false,
        events: [],
        layout: { padding: { left: 0, top: 0, right: 15, bottom: 0 } },
        plugins: {
          legend: { display: false },
          tooltip: { enabled: false },
          title: {
            display: true,
            text: titleText,
            fullSize: false,
            color: "#000",
            font: { family: fontFamily, size: 16.67, weight: "normal", lineHeight: 1.2 },
            padding: { top: 13, bottom: 3 },
          },
        },
        scales: {
          x: {
            type: "linear",
            min: -492.5,
            max: 10343,
            afterBuildTicks: (s: any) => {
              s.ticks = xTicks.map((value) => ({ value }));
            },
            afterFit: (s: any) => {
              s.height = 58;
            },
            grid: { color: "#b0b0b0", lineWidth: 1.1, tickColor: "#000", tickLength: 5, tickWidth: 1.1 },
            border: { color: "#000", width: 1.1 },
            ticks: {
              color: "#000",
              maxRotation: 0,
              font: { family: fontFamily, size: 13.9 },
              padding: 3,
              callback: (v: any) => String(v),
            },
            title: {
              display: true,
              text: xLabel,
              color: "#000",
              font: { family: fontFamily, size: 13.9 },
              padding: { top: 0, bottom: 13 },
            },
          },
          y: {
            type: "linear",
            min: 6644.35,
            max: 6704.72,
            afterBuildTicks: (s: any) => {
              s.ticks = yTicks.map((value) => ({ value }));
            },
            afterFit: (s: any) => {
              s.width = 81;
            },
            grid: { color: "#b0b0b0", lineWidth: 1.1, tickColor: "#000", tickLength: 5, tickWidth: 1.1 },
            border: { color: "#000", width: 1.1 },
            ticks: {
              color: "#000",
              font: { family: fontFamily, size: 13.9 },
              padding: 3,
              callback: (v: any) => String(v),
            },
            title: {
              display: true,
              text: yLabel,
              color: "#000",
              font: { family: fontFamily, size: 13.9 },
              padding: { top: 13, bottom: 0 },
            },
          },
        },
      },
    } as any);
    return () => chart.destroy();
  }, []);
  return (
    <div style={{ width: 1000, height: 1000 }}>
      <canvas ref={ref} width={1000} height={1000} style={{ display: "block" }} />
    </div>
  );
}
